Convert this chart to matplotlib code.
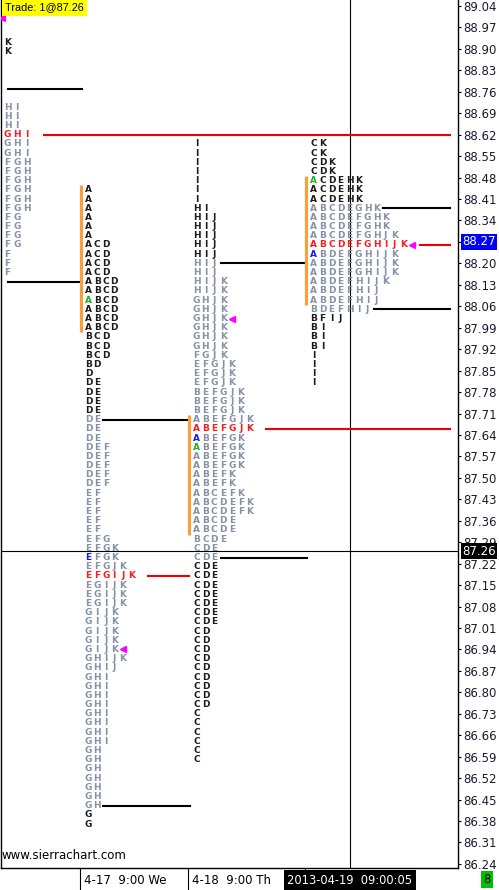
import numpy as np
import matplotlib
matplotlib.use("Agg")
import matplotlib.pyplot as plt
from matplotlib.transforms import blended_transform_factory

# ---------------------------------------------------------------- data
row_step = 0.03

profile_top = [88.92, 88.44, 88.59, 88.59]
profile_rows = [
    # profile 1 (partly off screen)
    ["K", "K", "", "", "", "", "", "HI", "HI", "HI", "GHI", "GHI", "GHI"]
    + ["FGH"] * 6 + ["FG"] * 4 + ["F"] * 3,
    # profile 2 (4-17)
    ["A"] * 6 + ["ACD"] * 4 + ["ABCD"] * 6 + ["BCD"] * 3 + ["BD", "D"]
    + ["DE"] * 7 + ["DEF"] * 5 + ["EF"] * 5
    + ["EFG", "EFGK", "EFGK", "EFGJK", "EFGIJK"]
    + ["EGIJK"] * 3 + ["GIJK"] * 5 + ["GHIJK", "GHIJ"]
    + ["GHI"] * 8 + ["GH"] * 7 + ["G"] * 2,
    # profile 3 (4-18)
    ["I"] * 7 + ["HI"] + ["HIJ"] * 7 + ["HIJK"] * 2 + ["GHJK"] * 6
    + ["FGJK"] + ["EFGJK"] * 3 + ["BEFGJK"] * 3 + ["ABEFGJK"] * 2
    + ["ABEFGK"] * 4 + ["ABEFK"] * 2 + ["ABCEFK"] + ["ABCDEFK"] * 2
    + ["ABCDE"] * 2 + ["BCDE"] + ["CDE"] * 9 + ["CD"] * 9 + ["C"] * 6,
    # profile 4 (4-19)
    ["CK", "CK", "CDK", "CDK"] + ["ACDEHK"] * 3 + ["ABCDEGHK"]
    + ["ABCDEFGHK"] * 2 + ["ABCDEFGHJK", "ABCDEFGHIJK"]
    + ["ABDEFGHIJK"] * 3 + ["ABDEFHIJK"] + ["ABDEFHIJ"] * 2
    + ["BDEFHIJ", "BFIJ"] + ["BI"] * 3 + ["I"] * 4,
]

poc_price = [88.62, 87.18, 87.66, 88.26]
poc_naked = [True, False, True, True]
va_high = [None, 88.44, 87.69, 88.47]
va_low = [None, 87.99, 87.33, 88.08]
ext_high = [88.77, 87.69, 88.20, 88.38]
ext_low = [88.14, 86.43, 87.24, 88.05]
close_price = [89.00, 86.94, 88.02, 88.26]
green_price = [None, 88.08, 87.60, 88.47]
blue_price = [None, 87.24, 87.63, 88.23]

price_ticks = [86.24, 86.31, 86.38, 86.45, 86.52, 86.59, 86.66, 86.73, 86.80,
               86.87, 86.94, 87.01, 87.08, 87.15, 87.22, 87.29, 87.36, 87.43,
               87.50, 87.57, 87.64, 87.71, 87.78, 87.85, 87.92, 87.99, 88.06,
               88.13, 88.20, 88.27, 88.34, 88.41, 88.48, 88.55, 88.62, 88.69,
               88.76, 88.83, 88.90, 88.97, 89.04]
last_price = 88.27
cursor_price = 87.26
session_labels = ["4-17  9:00 We", "4-18  9:00 Th"]
cursor_time = "2013-04-19  09:00:05"

# ---------------------------------------------------------------- layout
W, H = 499, 890
profile_x = [0, 81, 189, 306]   # pixel x of each profile start
col_ws = [9.8, 8.6, 8.9, 9.0]
letter_off = 7.5
right_end = 450
cursor_x = 350

dark = "#1c1c1c"
gray = "#8591a6"
orange = "#f7a040"

fig = plt.figure(figsize=(W / 100, H / 100), dpi=100)
ax = fig.add_axes([1 / W, 22 / H, 457 / W, 868 / H])
ax.set_xlim(1, 458)
ax.set_ylim(86.2267, 89.0596)
ax.set_facecolor("white")
ax.spines["top"].set_visible(False)
for s in ["left", "right", "bottom"]:
    ax.spines[s].set_linewidth(1.0)
ax.set_xticks([])
ax.yaxis.tick_right()
ax.set_yticks(price_ticks)
ax.set_yticklabels([f"{t:.2f}" for t in price_ticks])
ax.tick_params(axis="y", length=2.5, width=0.8, pad=1, labelsize=8.5,
               labelcolor="#1a1a2e")

for i, rows in enumerate(profile_rows):
    x0 = profile_x[i]
    cw = col_ws[i]
    nxt = profile_x[i + 1] + 1 if i + 1 < len(profile_x) else right_end
    lookup = {}
    for r, letters in enumerate(rows):
        price = round(profile_top[i] - r * row_step, 2)
        lookup[price] = letters
        for j, ch in enumerate(letters):
            if abs(price - poc_price[i]) < 1e-6:
                c = "#ff1a1a"
            elif j == 0 and green_price[i] is not None and abs(price - green_price[i]) < 1e-6:
                c = "#22b022"
            elif j == 0 and blue_price[i] is not None and abs(price - blue_price[i]) < 1e-6:
                c = "#1a1aff"
            elif ext_low[i] - 1e-6 <= price <= ext_high[i] + 1e-6:
                c = gray
            else:
                c = dark
            ax.text(x0 + letter_off + j * cw, price, ch, color=c,
                    fontsize=6.5, fontweight="bold", ha="center", va="center",
                    family="DejaVu Sans", zorder=4)

    def row_end(n):
        return x0 + letter_off + n * cw - cw / 2

    # value area bar
    if va_high[i] is not None:
        ax.plot([x0, x0], [va_high[i] + row_step / 2, va_low[i] - row_step / 2],
                color=orange, linewidth=2.3, solid_capstyle="butt", zorder=3)

    # extension lines
    for p in (ext_high[i], ext_low[i]):
        n = len(lookup.get(round(p, 2), ""))
        xs = row_end(n) + 2 if n else x0 + 8
        ax.plot([xs, nxt], [p, p], color="black", linewidth=1.5, zorder=3)

    # point of control
    n = len(lookup.get(round(poc_price[i], 2), ""))
    xe = right_end if poc_naked[i] else nxt - 1
    ax.plot([row_end(n) + 12, xe], [poc_price[i], poc_price[i]],
            color="#ee0000", linewidth=1.5, zorder=3)

    # close marker
    n = len(lookup.get(round(close_price[i], 2), ""))
    xm = row_end(n) + 4 if n else x0 + 2
    ax.plot([xm], [close_price[i]], marker="<", color="#ff00ff",
            markersize=4.5, linestyle="none", zorder=5)

# crosshair
ax.axhline(cursor_price, color="black", linewidth=0.8, zorder=2)
ax.axvline(cursor_x, color="black", linewidth=0.8, zorder=2)

tr = blended_transform_factory(ax.transAxes, ax.transData)
ax.text(1.0 + 4 / 457, last_price, f"{last_price:.2f}", transform=tr,
        color="white", fontsize=8.5, ha="left", va="center", clip_on=False,
        zorder=10, bbox=dict(boxstyle="square,pad=0.12", fc="#0000ff", ec="none"))
ax.text(1.0 + 4 / 457, cursor_price, f"{cursor_price:.2f}", transform=tr,
        color="white", fontsize=8.5, ha="left", va="center", clip_on=False,
        zorder=10, bbox=dict(boxstyle="square,pad=0.12", fc="black", ec="none"))

# top-left trade box
ax.text(5, 89.052, f"Trade: 1@{cursor_price:.2f}", family="Liberation Sans",
        fontsize=7.8, ha="left", va="top", color="black", zorder=10,
        bbox=dict(boxstyle="square,pad=0.3", fc="#ffff00", ec="none"))

ax.text(2, 86.245, "www.sierrachart.com", fontsize=8.5, ha="left",
        va="bottom", color="black", zorder=10)

# bottom time bar
bx = fig.add_axes([1 / W, 0, 457 / W, 22 / H])
bx.set_xlim(1, 458)
bx.set_ylim(0, 1)
bx.axis("off")
for i in range(1, 4):
    bx.axvline(profile_x[i] - 1, color="black", linewidth=0.8)
for i, lab in enumerate(session_labels):
    bx.text(profile_x[i + 1] + 3, 0.45, lab, fontsize=8.5, ha="left",
            va="center", color="black")
bx.text(cursor_x, 0.45, cursor_time, fontsize=8.3, ha="center", va="center",
        color="white", zorder=5,
        bbox=dict(boxstyle="square,pad=0.3", fc="black", ec="none"))

fig.text(487 / W, 10.5 / H, "8", fontsize=8.5, ha="center", va="center",
         color="black",
         bbox=dict(boxstyle="square,pad=0.2", fc="#00c000", ec="none"))

fig.savefig("out.png", dpi=100)
